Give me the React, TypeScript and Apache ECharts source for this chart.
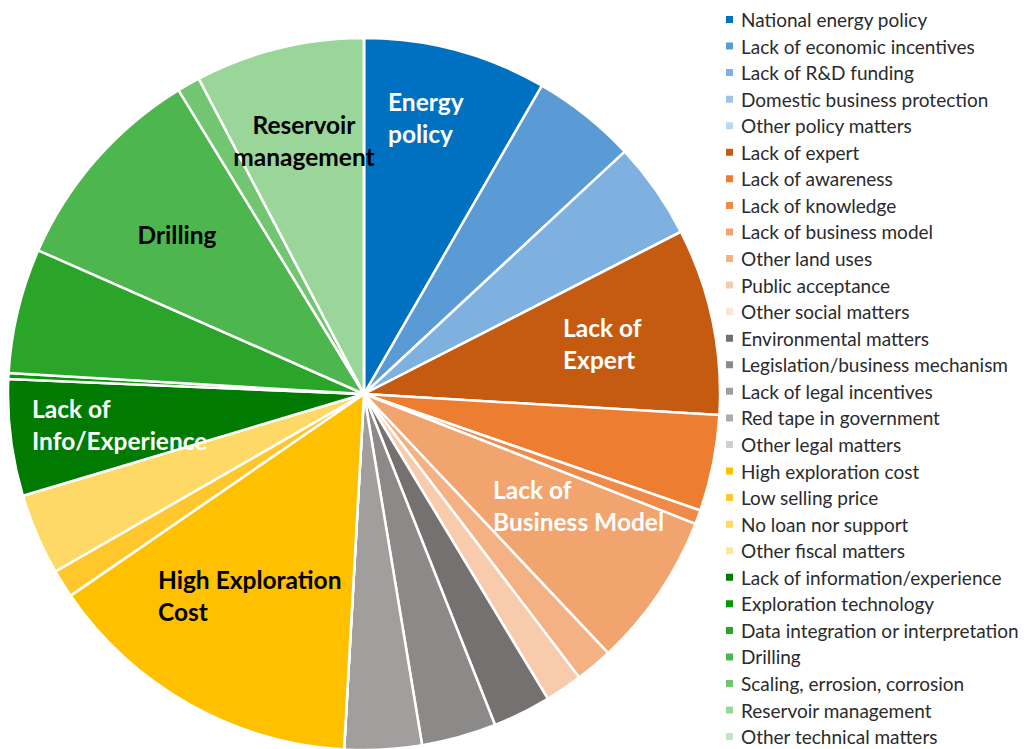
import React, { useEffect, useRef } from "react";
import * as echarts from "echarts";

const categories = [
  "National energy policy",
  "Lack of economic incentives",
  "Lack of R&D funding",
  "Domestic business protection",
  "Other policy matters",
  "Lack of expert",
  "Lack of awareness",
  "Lack of knowledge",
  "Lack of business model",
  "Other land uses",
  "Public acceptance",
  "Other social matters",
  "Environmental matters",
  "Legislation/business mechanism",
  "Lack of legal incentives",
  "Red tape in government",
  "Other legal matters",
  "High exploration cost",
  "Low selling price",
  "No loan nor support",
  "Other fiscal matters",
  "Lack of information/experience",
  "Exploration technology",
  "Data integration or interpretation",
  "Drilling",
  "Scaling, errosion, corrosion",
  "Reservoir management",
  "Other technical matters",
];

const values = [
  30, 17.1, 15.8, 0, 0, 30.5, 15.7, 2.3, 25.3, 6.1, 6.1, 0, 9.5, 12.2, 12.6, 0, 0,
  52.3, 4.6, 13.3, 0, 19.0, 1.0, 20.4, 34.8, 3.75, 27.65, 0,
];

const colors = [
  "#0070C0", "#5B9BD5", "#7EB0E0", "#9DC3E6", "#BDD7EE",
  "#C55A11", "#ED7D31", "#F08A4B", "#F2A46E", "#F4B183", "#F8CBAD", "#FBE5D6",
  "#767171", "#8C8989", "#A19E9D", "#AEAAAA", "#D0CECE",
  "#FFC000", "#FFC72C", "#FFD966", "#FFE699",
  "#007A00", "#059905", "#2AA52A", "#4EB64E", "#72C672", "#9AD69A", "#C2E6C2",
];

const sliceLabels = [
  { text: "Energy\npolicy", x: 388, y: 117, color: "#ffffff", align: "left" },
  { text: "Reservoir\nmanagement", x: 304, y: 140, color: "#000000", align: "center" },
  { text: "Drilling", x: 177, y: 234, color: "#000000", align: "center" },
  { text: "Lack of\nExpert", x: 563, y: 343, color: "#ffffff", align: "left" },
  { text: "Lack of\nBusiness Model", x: 493, y: 505, color: "#ffffff", align: "left" },
  { text: "Lack of\nInfo/Experience", x: 32, y: 424, color: "#ffffff", align: "left" },
  { text: "High Exploration\nCost", x: 158, y: 595, color: "#000000", align: "left" },
];

export default function App() {
  const ref = useRef<HTMLDivElement>(null);
  useEffect(() => {
    if (!ref.current) return;
    const chart = echarts.init(ref.current, undefined, { renderer: "svg" });
    const data = categories.map((name, i) => ({
      name,
      value: values[i],
      itemStyle: { color: colors[i] },
    }));
    chart.setOption({
      animation: false,
      backgroundColor: "#ffffff",
      legend: {
        orient: "vertical",
        left: 724,
        top: 10,
        height: 739,
        padding: 0,
        itemWidth: 9,
        itemHeight: 9,
        itemGap: 7.56,
        icon: "rect",
        selectedMode: false,
        textStyle: {
          fontFamily: "Lato",
          fontSize: 19,
          lineHeight: 19,
          color: "#2b2b2b",
          padding: [0, 0, 0, 2],
        },
        data: categories,
      },
      series: [
        {
          type: "pie",
          center: [364, 394],
          radius: 356,
          startAngle: 90,
          clockwise: true,
          avoidLabelOverlap: false,
          label: { show: false },
          labelLine: { show: false },
          emphasis: { disabled: true },
          itemStyle: { borderColor: "#ffffff", borderWidth: 2.5 },
          data,
        },
      ],
      graphic: sliceLabels.map((l) => ({
        type: "text",
        x: l.x,
        y: l.y,
        silent: true,
        z: 100,
        style: {
          text: l.text,
          fill: l.color,
          font: "bold 24.5px Lato",
          align: l.align,
          verticalAlign: "middle",
          lineHeight: 32,
        },
      })),
    });
    return () => chart.dispose();
  }, []);
  return (
    <div
      ref={ref}
      style={{ position: "fixed", left: 0, top: 0, width: 1028, height: 749 }}
    />
  );
}
